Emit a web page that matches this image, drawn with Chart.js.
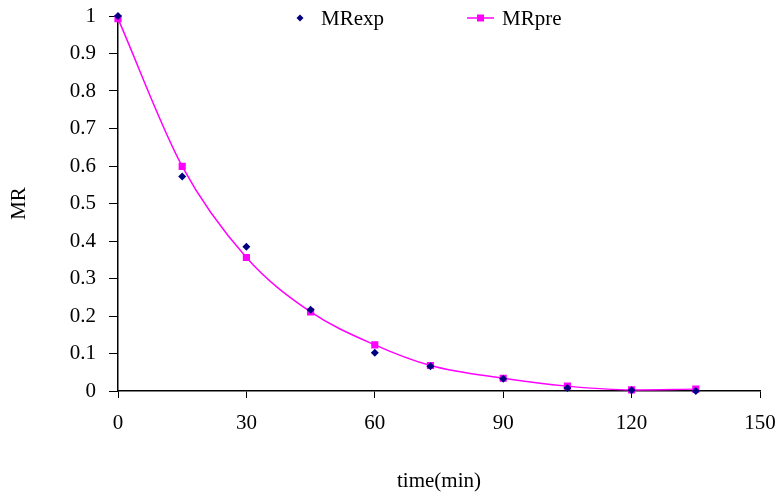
<!DOCTYPE html>
<html>
<head>
<meta charset="utf-8">
<title>MR vs time</title>
<script src="https://cdn.jsdelivr.net/npm/chart.js@4"></script>
<style>
  html, body { margin: 0; padding: 0; background: #fff; }
  #wrap { width: 782px; height: 493px; }
</style>
</head>
<body>
<div id="wrap"><canvas id="mr-chart" width="782" height="493"></canvas></div>
<script>
// Data
const timeMin = [0, 15, 30, 45, 60, 73, 90, 105, 120, 135];
const mrExp = [1.0, 0.572, 0.385, 0.217, 0.102, 0.066, 0.033, 0.008, 0.002, 0.0];
const mrPre = [0.993, 0.599, 0.356, 0.211, 0.123, 0.068, 0.034, 0.013, 0.003, 0.005];
const xTicks = [0, 30, 60, 90, 120, 150];

const serif = "'Liberation Serif', 'Times New Roman', serif";
const fontSize = 21;

const toPoints = (xs, ys) => xs.map((x, i) => ({ x: x, y: ys[i] }));

// Legend drawn inside the plot area, like the original
const inlineLegend = {
  id: 'inlineLegend',
  afterDraw(chart) {
    const c = chart.ctx;
    const area = chart.chartArea;
    const y = area.top + 2;
    c.save();
    c.font = fontSize + 'px ' + serif;
    c.textBaseline = 'middle';

    // MRexp: diamond only
    let x = area.left + 182;
    c.fillStyle = '#000080';
    c.beginPath();
    c.moveTo(x, y - 3.5); c.lineTo(x + 3.5, y); c.lineTo(x, y + 3.5); c.lineTo(x - 3.5, y);
    c.closePath();
    c.fill();
    c.fillStyle = '#000';
    c.fillText(chart.data.datasets[0].label, x + 21, y + 1);

    // MRpre: line with square
    x = area.left + 349;
    c.strokeStyle = '#ff00ff';
    c.lineWidth = 1.5;
    c.beginPath();
    c.moveTo(x, y); c.lineTo(x + 27, y);
    c.stroke();
    c.fillStyle = '#ff00ff';
    c.fillRect(x + 10, y - 3.5, 7, 7);
    c.fillStyle = '#000';
    c.fillText(chart.data.datasets[1].label, x + 35, y + 1);
    c.restore();
  }
};

const ctx = document.getElementById('mr-chart').getContext('2d');
const mrChart = new Chart(ctx, {
  type: 'scatter',
  data: {
    datasets: [
      {
        label: 'MRexp',
        data: toPoints(timeMin, mrExp),
        showLine: false,
        pointStyle: 'rectRot',
        pointRadius: 4,
        backgroundColor: '#000080',
        borderColor: '#000080',
        borderWidth: 0,
        clip: false,
      },
      {
        label: 'MRpre',
        data: toPoints(timeMin, mrPre),
        showLine: true,
        cubicInterpolationMode: 'monotone',
        pointStyle: 'rect',
        pointRadius: 4,
        borderColor: '#ff00ff',
        backgroundColor: '#ff00ff',
        borderWidth: 1.5,
        clip: false,
      },
    ],
  },
  options: {
    responsive: false,
    animation: false,
    layout: { padding: { top: 16, right: 22, left: 0, bottom: 0 } },
    plugins: {
      legend: { display: false },
      tooltip: { enabled: false },
    },
    scales: {
      x: {
        type: 'linear',
        min: 0,
        max: 150,
        afterBuildTicks: (axis) => { axis.ticks = xTicks.map(v => ({ value: v })); },
        afterFit: (axis) => { axis.height = 102; axis.paddingRight = 0; axis.paddingLeft = 0; },
        grid: { drawOnChartArea: false, drawTicks: true, tickLength: 7, color: '#000' },
        border: { display: true, color: '#000', width: 1.5 },
        ticks: { color: '#000', font: { family: serif, size: fontSize }, padding: 13, maxRotation: 0 },
        title: { display: true, text: 'time(min)', color: '#000', font: { family: serif, size: fontSize, lineHeight: 1.1 }, padding: { top: 0, bottom: 0 } },
      },
      y: {
        min: 0,
        max: 1,
        afterFit: (axis) => { axis.width = 118; axis.paddingTop = 0; axis.paddingBottom = 0; },
        grid: { drawOnChartArea: false, drawTicks: true, tickLength: 9, color: '#000' },
        border: { display: true, color: '#000', width: 1.5 },
        ticks: {
          stepSize: 0.1,
          color: '#000',
          font: { family: serif, size: fontSize },
          padding: 13,
          callback: (value) => String(+value.toFixed(1)),
        },
        title: { display: true, text: 'MR', color: '#000', font: { family: serif, size: fontSize, lineHeight: 1.1 }, padding: { top: 8, bottom: 0 } },
      },
    },
  },
  plugins: [inlineLegend],
});
</script>
</body>
</html>
